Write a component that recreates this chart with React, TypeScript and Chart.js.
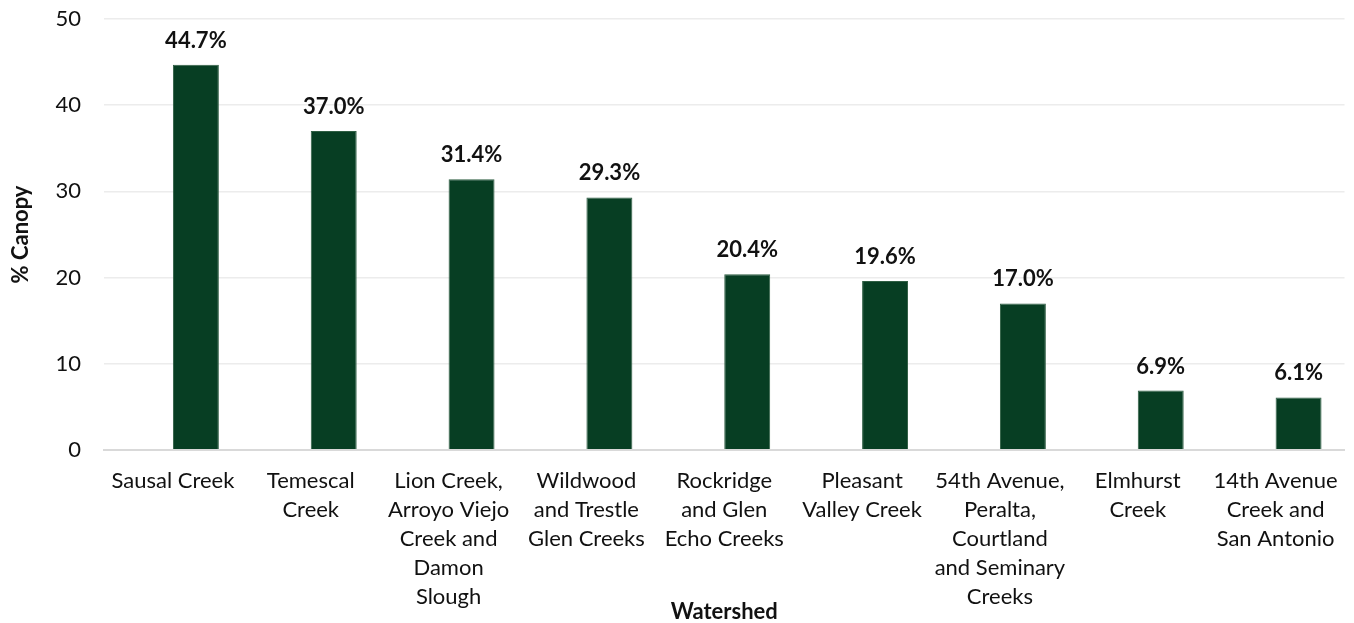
import React, { useEffect, useRef } from "react";
import { Chart, registerables } from "chart.js";

Chart.register(...registerables);

const categories: (string | string[])[] = [
  "Sausal Creek",
  ["Temescal", "Creek"],
  ["Lion Creek,", "Arroyo Viejo", "Creek and", "Damon", "Slough"],
  ["Wildwood", "and Trestle", "Glen Creeks"],
  ["Rockridge", "and Glen", "Echo Creeks"],
  ["Pleasant", "Valley Creek"],
  ["54th Avenue,", "Peralta,", "Courtland", "and Seminary", "Creeks"],
  ["Elmhurst", "Creek"],
  ["14th Avenue", "Creek and", "San Antonio"],
];

const emptySeries: (number | null)[] = [null, null, null, null, null, null, null, null, null];
const canopyValues: number[] = [44.7, 37.0, 31.4, 29.3, 20.4, 19.6, 17.0, 6.9, 6.1];
const yTicks: number[] = [0, 10, 20, 30, 40, 50];

const FONT = "Lato, 'Open Sans', sans-serif";
const TEXT = "#111111";

const labelPlugin = {
  id: "barLabels",
  afterDatasetsDraw(chart: any) {
    const { ctx } = chart;
    const meta = chart.getDatasetMeta(1);
    ctx.save();
    ctx.font = `bold 22px ${FONT}`;
    ctx.fillStyle = TEXT;
    ctx.textAlign = "center";
    ctx.textBaseline = "alphabetic";
    meta.data.forEach((bar: any, i: number) => {
      ctx.fillText(canopyValues[i].toFixed(1) + "%", bar.x, bar.y - 17);
    });
    ctx.restore();
  },
};

export default function App() {
  const ref = useRef<HTMLCanvasElement | null>(null);

  useEffect(() => {
    document.body.style.margin = "0";
    if (!ref.current) return;
    const chart = new Chart(ref.current, {
      type: "bar",
      data: {
        labels: categories,
        datasets: [
          {
            label: "",
            data: emptySeries,
            backgroundColor: "rgba(0,0,0,0)",
          },
          {
            label: "% Canopy",
            data: canopyValues,
            backgroundColor: "#073e23",
            borderColor: "#2f5e43",
            borderWidth: 1,
          },
        ],
      },
      options: {
        responsive: false,
        animation: false,
        datasets: {
          bar: { categoryPercentage: 2 / 3, barPercentage: 1 },
        },
        layout: { padding: { left: 0, right: 6, top: 19, bottom: 0 } },
        plugins: {
          legend: { display: false },
          tooltip: { enabled: false },
        },
        scales: {
          x: {
            grid: { display: false, drawTicks: false },
            border: { display: true, color: "#d9d9d9", width: 2 },
            ticks: {
              color: TEXT,
              font: { family: FONT, size: 22, lineHeight: 1.32 },
              padding: 16,
              maxRotation: 0,
              autoSkip: false,
            },
            title: {
              display: true,
              text: "Watershed",
              color: TEXT,
              font: { family: FONT, size: 22, weight: "bold", lineHeight: 1 },
              padding: 0,
            },
            afterFit(scale: any) {
              scale.height = 173;
              scale.paddingTop = 0;
              scale.paddingBottom = 0;
            },
          },
          y: {
            min: 0,
            max: 50,
            afterBuildTicks(scale: any) {
              scale.ticks = yTicks.map((v) => ({ value: v }));
            },
            grid: {
              drawTicks: false,
              color: (c: any) => (c.tick && c.tick.value === 0 ? "#d9d9d9" : "#ececec"),
              lineWidth: (c: any) => (c.tick && c.tick.value === 0 ? 2 : 1.5),
            },
            border: { display: false },
            ticks: {
              color: TEXT,
              font: { family: FONT, size: 22 },
              padding: 23,
            },
            title: {
              display: true,
              text: "% Canopy",
              color: TEXT,
              font: { family: FONT, size: 22, weight: "bold", lineHeight: 1.2 },
              padding: { top: 8, bottom: 0 },
            },
            afterFit(scale: any) {
              scale.width = 104;
              scale.paddingTop = 0;
              scale.paddingBottom = 0;
            },
          },
        },
      },
      plugins: [labelPlugin],
    });
    return () => chart.destroy();
  }, []);

  return (
    <div style={{ width: 1354, height: 623 }}>
      <canvas ref={ref} width={1354} height={623} />
    </div>
  );
}
